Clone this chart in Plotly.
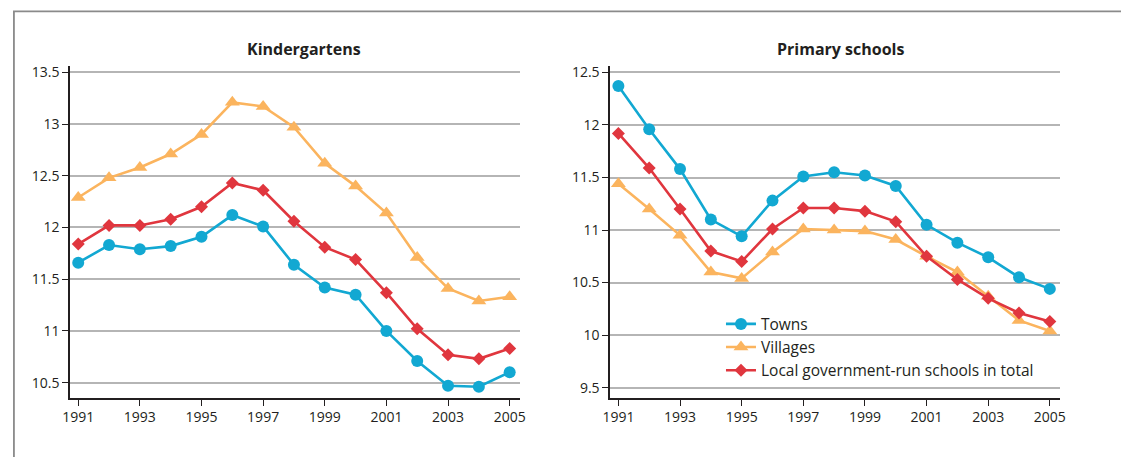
import plotly.graph_objects as go

years = list(range(1991, 2006))

# Kindergartens
kg_towns = [11.66, 11.83, 11.79, 11.82, 11.91, 12.12, 12.01, 11.64, 11.42, 11.35, 11.00, 10.71, 10.47, 10.46, 10.60]
kg_villages = [12.29, 12.48, 12.58, 12.71, 12.90, 13.21, 13.17, 12.97, 12.62, 12.40, 12.14, 11.71, 11.41, 11.29, 11.33]
kg_total = [11.84, 12.02, 12.02, 12.08, 12.20, 12.43, 12.36, 12.06, 11.81, 11.69, 11.37, 11.02, 10.77, 10.73, 10.83]

# Primary schools
ps_towns = [12.37, 11.96, 11.58, 11.10, 10.94, 11.28, 11.51, 11.55, 11.52, 11.42, 11.05, 10.88, 10.74, 10.55, 10.44]
ps_villages = [11.44, 11.20, 10.95, 10.60, 10.54, 10.79, 11.01, 11.00, 10.99, 10.91, 10.75, 10.60, 10.37, 10.14, 10.04]
ps_total = [11.92, 11.59, 11.20, 10.80, 10.70, 11.01, 11.21, 11.21, 11.18, 11.08, 10.75, 10.53, 10.35, 10.21, 10.13]

series_names = ["Towns", "Villages", "Local government-run schools in total"]
colors = ["#12A8D2", "#FBB45E", "#E0363E"]
symbols = ["circle", "triangle-up", "diamond"]
sizes = [12, 13, 10]

panel_titles = ["Kindergartens", "Primary schools"]
x_ticks = [1991, 1993, 1995, 1997, 1999, 2001, 2003, 2005]
kg_yticks = [10.5, 11, 11.5, 12, 12.5, 13, 13.5]
ps_yticks = [9.5, 10, 10.5, 11, 11.5, 12, 12.5]

W, H = 1121, 457
FONT = "Open Sans"
TXT = "#231F20"

fig = go.Figure()

panels = [
    ("x", "y", [kg_towns, kg_villages, kg_total]),
    ("x2", "y2", [ps_towns, ps_villages, ps_total]),
]
for p, (xa, ya, data) in enumerate(panels):
    for i, vals in enumerate(data):
        fig.add_trace(go.Scatter(
            x=years, y=vals, xaxis=xa, yaxis=ya,
            mode="lines+markers", name=series_names[i],
            line=dict(color=colors[i], width=2.6),
            marker=dict(symbol=symbols[i], size=sizes[i], color=colors[i]),
            showlegend=(p == 1),
            cliponaxis=False,
        ))


def px_x(v):
    return v / W


def px_y(v):
    return 1 - v / H


axis_common = dict(
    showline=True, linecolor="#231F20", linewidth=2,
    ticks="outside", ticklen=6, tickcolor="#231F20", tickwidth=1,
    tickfont=dict(family=FONT, size=14, color=TXT),
    zeroline=False,
)

fig.update_layout(
    width=W, height=H,
    margin=dict(l=0, r=0, t=0, b=0),
    paper_bgcolor="white", plot_bgcolor="white",
    xaxis=dict(domain=[px_x(63), px_x(518)], range=[1990.74, 2005.32],
               tickvals=x_ticks, showgrid=False, anchor="y", **axis_common),
    yaxis=dict(domain=[px_y(397), px_y(63)], range=[10.356, 13.557],
               tickvals=kg_yticks, ticktext=[f"{v:g}" for v in kg_yticks],
               showgrid=True, gridcolor="#B5B5B5", gridwidth=1.5,
               anchor="x", **axis_common),
    xaxis2=dict(domain=[px_x(610), px_x(1065)], range=[1990.74, 2005.32],
                tickvals=x_ticks, showgrid=False, anchor="y2", **axis_common),
    yaxis2=dict(domain=[px_y(397), px_y(63)], range=[9.406, 12.557],
                tickvals=ps_yticks, ticktext=[f"{v:g}" for v in ps_yticks],
                showgrid=True, gridcolor="#B5B5B5", gridwidth=1.5,
                anchor="x2", **axis_common),
    legend=dict(
        x=px_x(722), y=px_y(306), xanchor="left", yanchor="top",
        bgcolor="rgba(255,255,255,0)", borderwidth=0,
        font=dict(family=FONT, size=15.5, color=TXT),
        tracegroupgap=0, itemwidth=30,
    ),
)

for t, cx in zip(panel_titles, [300, 843]):
    fig.add_annotation(
        x=px_x(cx), y=px_y(45), xref="paper", yref="paper",
        text=f"<b>{t}</b>", showarrow=False,
        font=dict(family=FONT, size=16, color=TXT),
        xanchor="center", yanchor="middle",
    )

# outer frame: a box whose right and bottom edges run past the page
fig.add_shape(type="rect", xref="paper", yref="paper",
              x0=px_x(6), x1=1.2, y0=-0.2, y1=px_y(7.5),
              line=dict(color="#8A8A8A", width=1.8), fillcolor="rgba(0,0,0,0)",
              layer="below")

# keep the page from scrolling so the figure fills the window exactly
page_js = "document.body.style.margin='0';document.body.style.overflow='hidden';"

fig.write_html("out.html", config={"displayModeBar": False}, post_script=page_js)
